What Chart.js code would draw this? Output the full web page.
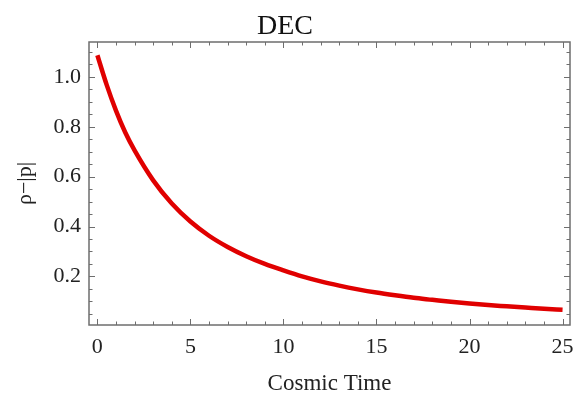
<!DOCTYPE html>
<html>
<head>
<meta charset="utf-8">
<script src="https://cdn.jsdelivr.net/npm/chart.js@4"></script>
<style>
  html, body { margin: 0; padding: 0; background: #fff; }
  #wrap { width: 573px; height: 394px; }
</style>
</head>
<body>
<div id="wrap"><canvas id="decChart"></canvas></div>
<script>
// cosmic time samples and the curve
const cosmicTime = [0, 0.5, 1, 1.5, 2, 3, 4, 5, 6, 7, 8, 9, 10, 11, 12, 13, 14, 15, 16, 17, 18, 19, 20, 21, 22, 23, 24, 25];
const rhoMinusP = [1.087, 0.968, 0.865, 0.777, 0.705, 0.585, 0.492, 0.420, 0.363, 0.318, 0.281, 0.250, 0.224, 0.200, 0.180, 0.163, 0.148, 0.135, 0.124, 0.114, 0.106, 0.098, 0.091, 0.085, 0.080, 0.075, 0.070, 0.066];

const xTickLabels = [0, 5, 10, 15, 20, 25];
const yTickLabels = [0.2, 0.4, 0.6, 0.8, 1.0];

const serif = "'Liberation Serif', 'Times New Roman', serif";
const frameColor = '#6e6e6e';

// Mathematica style frame: ticks point inward on all four sides
const frameTicks = {
    id: 'frameTicks',
    afterDatasetsDraw(chart) {
        const ctx = chart.ctx;
        const a = chart.chartArea;
        const xs = chart.scales.x, ys = chart.scales.y;
        ctx.save();
        ctx.strokeStyle = frameColor;
        ctx.lineWidth = 1;
        ctx.beginPath();
        for (let i = 0; i <= 25; i++) {
            const px = Math.round(xs.getPixelForValue(i)) + 0.5;
            const len = i % 5 === 0 ? 6 : 3.5;
            ctx.moveTo(px, a.bottom); ctx.lineTo(px, a.bottom - len);
            ctx.moveTo(px, a.top); ctx.lineTo(px, a.top + len);
        }
        for (let k = 1; k <= 22; k++) {
            const py = Math.round(ys.getPixelForValue(k * 0.05)) + 0.5;
            const len = k % 4 === 0 ? 6 : 3.5;
            ctx.moveTo(a.left, py); ctx.lineTo(a.left + len, py);
            ctx.moveTo(a.right, py); ctx.lineTo(a.right - len, py);
        }
        ctx.stroke();
        ctx.lineWidth = 1.5;
        ctx.strokeRect(a.left, a.top, a.right - a.left, a.bottom - a.top);
        ctx.restore();
    }
};

new Chart(document.getElementById('decChart'), {
    type: 'line',
    data: {
        labels: cosmicTime,
        datasets: [{
            data: cosmicTime.map((t, i) => ({ x: t, y: rhoMinusP[i] })),
            borderColor: '#e00000',
            borderWidth: 4.5,
            pointRadius: 0,
            cubicInterpolationMode: 'monotone',
            fill: false
        }]
    },
    options: {
        responsive: true,
        maintainAspectRatio: false,
        animation: false,
        layout: { padding: { top: 0, right: 3, bottom: 0, left: 0 } },
        plugins: {
            legend: { display: false },
            tooltip: { enabled: false },
            title: {
                display: true,
                text: 'DEC',
                color: '#111',
                font: { family: serif, size: 28, weight: 'normal', lineHeight: 1.2 },
                padding: { top: 10, bottom: -1.6 }
            }
        },
        scales: {
            x: {
                type: 'linear',
                min: -0.45,
                max: 25.4,
                afterBuildTicks: s => { s.ticks = xTickLabels.map(v => ({ value: v })); },
                afterFit: s => { s.height = 69; s.paddingLeft = 0; s.paddingRight = 0; },
                grid: { display: false, drawTicks: false, tickLength: 0 },
                border: { display: false },
                ticks: {
                    color: '#222',
                    font: { family: serif, size: 22 },
                    padding: 9,
                    maxRotation: 0,
                    autoSkip: false,
                    callback: v => String(v)
                },
                title: {
                    display: true,
                    text: 'Cosmic Time',
                    color: '#222',
                    font: { family: serif, size: 23, lineHeight: 0.85 },
                    padding: 0
                }
            },
            y: {
                type: 'linear',
                min: 0.005,
                max: 1.14,
                afterBuildTicks: s => { s.ticks = yTickLabels.map(v => ({ value: v })); },
                afterFit: s => { s.width = 89; s.paddingTop = 0; s.paddingBottom = 0; },
                grid: { display: false, drawTicks: false, tickLength: 0 },
                border: { display: false },
                ticks: {
                    color: '#222',
                    font: { family: serif, size: 22 },
                    padding: 8,
                    autoSkip: false,
                    callback: v => v.toFixed(1)
                },
                title: {
                    display: true,
                    text: 'ρ−|p|',
                    color: '#222',
                    font: { family: serif, size: 22, lineHeight: 1.2 },
                    padding: { top: 12, bottom: 0 }
                }
            }
        }
    },
    plugins: [frameTicks]
});
</script>
</body>
</html>
